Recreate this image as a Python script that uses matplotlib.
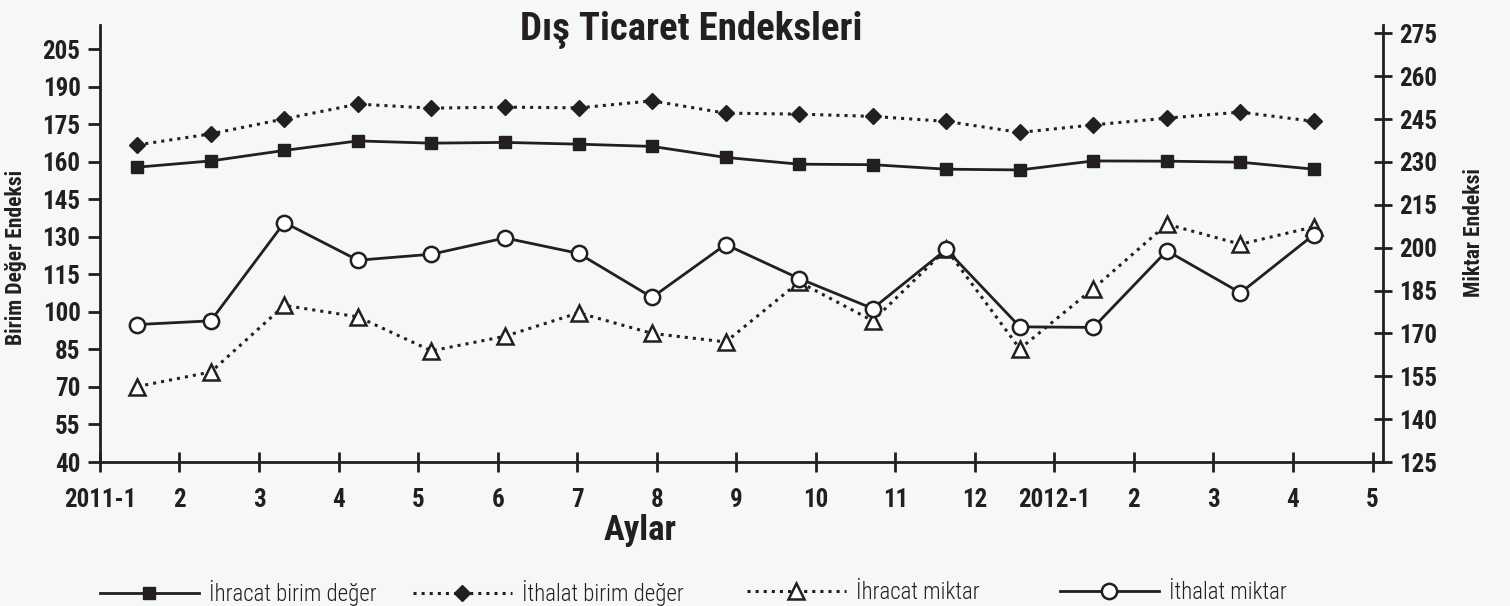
import numpy as np
import matplotlib
matplotlib.use("Agg")
import matplotlib.pyplot as plt

plt.rcParams['font.family'] = ['Roboto Condensed', 'DejaVu Sans']

# aylar (x ekseni etiketleri)
months = ["2011-1", "2", "3", "4", "5", "6", "7", "8", "9", "10", "11", "12",
          "2012-1", "2", "3", "4", "5"]

# birim deger endeksleri (sol eksen)
ihracat_birim = [157.8, 160.3, 164.5, 168.3, 167.4, 167.7, 167.0, 166.1, 161.7,
                 159.0, 158.8, 157.0, 156.7, 160.3, 160.2, 159.8, 157.0]
ithalat_birim = [166.7, 171.1, 177.1, 183.0, 181.4, 181.8, 181.5, 184.3, 179.4,
                 179.0, 178.1, 176.1, 171.7, 174.7, 177.4, 179.8, 176.1]

# miktar endeksleri (sag eksen)
ihracat_miktar = [151.4, 156.5, 179.8, 175.8, 163.9, 169.0, 177.2, 170.0, 167.0,
                  188.0, 174.4, 199.5, 164.6, 185.7, 208.2, 201.2, 207.3]
ithalat_miktar = [173.1, 174.4, 208.8, 195.6, 197.7, 203.4, 198.0, 182.6, 201.1,
                  189.2, 178.7, 199.4, 172.3, 172.1, 198.9, 184.2, 204.6]

series_names = ['İhracat birim değer', 'İthalat birim değer',
                'İhracat miktar', 'İthalat miktar']

ink = '#231f20'
bg = '#f6f8f8'

fig = plt.figure(figsize=(15.1, 6.06), dpi=100, facecolor=bg)
ax = fig.add_axes([0.0662, 0.2376, 0.916 - 0.0662, 0.9587 - 0.2376])
ax.set_facecolor(bg)
ax2 = ax.twinx()

x = np.arange(len(ihracat_birim))

l1, = ax.plot(x, ihracat_birim, '-', color=ink, lw=2, marker='s', ms=8,
              mfc=ink, mec=ink)
l2, = ax.plot(x, ithalat_birim, ':', color=ink, lw=2.2, marker='D', ms=8,
              mfc=ink, mec=ink)
l3, = ax2.plot(x, ihracat_miktar, ':', color=ink, lw=2.2, marker='^', ms=11,
               mfc='white', mec=ink, mew=1.8)
l4, = ax2.plot(x, ithalat_miktar, '-', color=ink, lw=2, marker='o', ms=11,
               mfc='white', mec=ink, mew=1.8)

ax.set_xlim(-0.507, 16.94)
ax.set_ylim(40, 214.6)
ax2.set_ylim(125, 277.9)

ax.set_yticks(np.arange(40, 206, 15))
ax2.set_yticks(np.arange(125, 276, 15))
tick_pos = -0.507 + 1.0814 * np.arange(len(months))
ax.set_xticks(tick_pos)
ax.set_xticklabels(months)

for a in (ax, ax2):
    for s in a.spines.values():
        s.set_color(ink)
        s.set_linewidth(2)
    a.spines['top'].set_visible(False)
ax.spines['right'].set_visible(False)
ax2.spines['left'].set_visible(False)
ax2.spines['bottom'].set_visible(False)

ax.tick_params(axis='y', direction='out', length=9, width=2, color=ink, pad=5,
               labelsize=18, labelcolor=ink)
ax.tick_params(axis='x', direction='inout', length=15, width=2, color=ink, pad=11,
               labelsize=18, labelcolor=ink)
ax2.tick_params(axis='y', direction='inout', length=13, width=2, color=ink, pad=5,
                labelsize=18, labelcolor=ink)
for lab in ax.get_xticklabels() + ax.get_yticklabels() + ax2.get_yticklabels():
    lab.set_fontweight('bold')

fig.text(0.458, 0.951, 'Dış Ticaret Endeksleri', ha='center', va='center',
         fontsize=28, fontweight='bold', color=ink)
fig.text(0.424, 0.124, 'Aylar', ha='center', va='center', fontsize=25,
         fontweight='bold', color=ink)
fig.text(0.0106, 0.575, 'Birim Değer Endeksi', rotation=90, ha='center',
         va='center', fontsize=15.5, fontweight='bold', color=ink)
fig.text(0.976, 0.617, 'Miktar Endeksi', rotation=90, ha='center',
         va='center', fontsize=15.5, fontweight='bold', color=ink)

# her seri icin ayri lejant kutusu (Excel gibi esit araliklar)
leg_x = [0.0662, 0.2735, 0.4947, 0.702]
for handle, name, lx in zip([l1, l2, l3, l4], series_names, leg_x):
    leg = fig.legend([handle], [name], loc='center left',
                     bbox_to_anchor=(lx, 0.0215), frameon=False,
                     prop={'size': 16.5, 'weight': 300}, handlelength=4.3,
                     handletextpad=0.45, borderpad=0, borderaxespad=0)
    for t in leg.get_texts():
        t.set_color(ink)

fig.savefig('out.png', dpi=100, facecolor=bg)
